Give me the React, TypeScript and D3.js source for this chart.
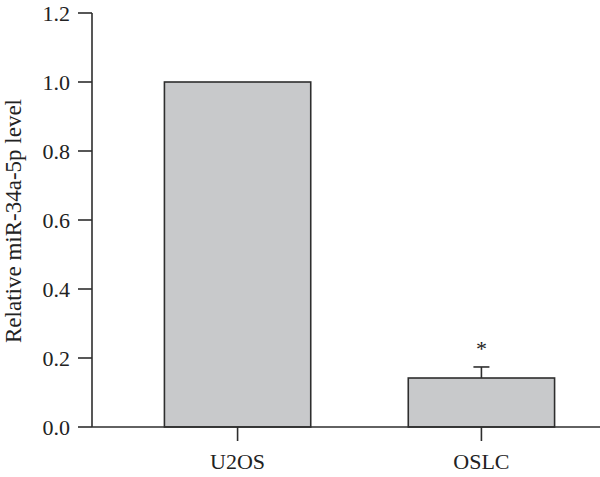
import React from "react";
import * as d3 from "d3";

const categories = ["U2OS", "OSLC"];
const values = [1.0, 0.142];
const errors = [0, 0.032];
const significance = ["", "*"];
const yTicks = [0, 0.2, 0.4, 0.6, 0.8, 1.0, 1.2];
const yLabel = "Relative miR-34a-5p level";

export default function App() {
  const W = 600, H = 477;
  const axisX = 92;
  const y = d3.scaleLinear().domain([0, 1.2]).range([427, 13]);
  const x = d3.scaleBand<string>().domain(categories).range([92, 627]).paddingInner(0.4).paddingOuter(0.297);
  const font = "'Liberation Serif', 'Times New Roman', serif";
  const stroke = "#2e2e2e";
  return (
    <svg width={W} height={H} style={{ position: "absolute", left: 0, top: 0, background: "#fff" }}>
      {categories.map((c, i) => {
        const x0 = x(c)!;
        const bw = x.bandwidth();
        const cx = x0 + bw / 2;
        const top = y(values[i] + errors[i]);
        return (
          <g key={c}>
            <rect x={x0} y={y(values[i])} width={bw} height={y(0) - y(values[i])} fill="#c8c9cb" stroke={stroke} strokeWidth={1.6} />
            {errors[i] > 0 && (
              <g stroke={stroke} strokeWidth={1.6}>
                <line x1={cx} x2={cx} y1={y(values[i])} y2={top} />
                <line x1={cx - 8} x2={cx + 8} y1={top} y2={top} />
              </g>
            )}
            {significance[i] && (
              <text x={cx} y={top - 11} textAnchor="middle" fontFamily={font} fontSize={22} fill="#222">{significance[i]}</text>
            )}
            <line x1={cx} x2={cx} y1={y(0)} y2={y(0) + 14} stroke={stroke} strokeWidth={1.6} />
            <text x={cx} y={469} textAnchor="middle" fontFamily={font} fontSize={22} fill="#222">{c}</text>
          </g>
        );
      })}
      <line x1={axisX} x2={W} y1={y(0)} y2={y(0)} stroke={stroke} strokeWidth={1.6} />
      <line x1={axisX} x2={axisX} y1={y(1.2)} y2={y(0)} stroke={stroke} strokeWidth={1.6} />
      {yTicks.map((t) => (
        <g key={t}>
          <line x1={78} x2={axisX} y1={y(t)} y2={y(t)} stroke={stroke} strokeWidth={1.6} />
          <text x={70} y={y(t)} dy="0.35em" textAnchor="end" fontFamily={font} fontSize={22} fill="#222">{d3.format(".1f")(t)}</text>
        </g>
      ))}
      <text transform={`translate(21,${221}) rotate(-90)`} textAnchor="middle" fontFamily={font} fontSize={23} fill="#222">{yLabel}</text>
    </svg>
  );
}
